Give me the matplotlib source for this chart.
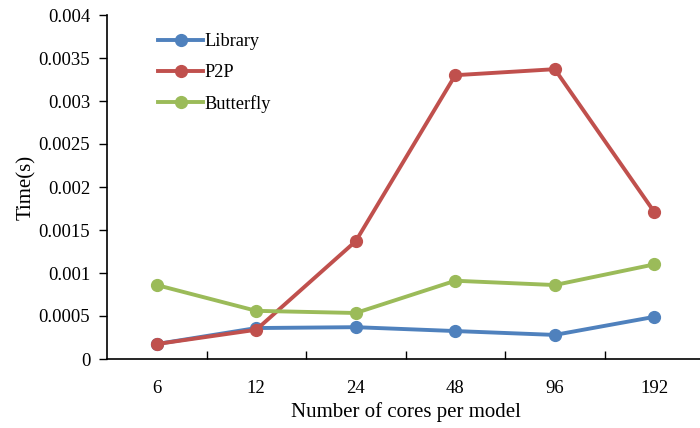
import numpy as np
import matplotlib.pyplot as plt
from matplotlib.ticker import FixedLocator, MultipleLocator

plt.rcParams['font.family'] = ['Liberation Serif', 'DejaVu Serif']

cores = ['6', '12', '24', '48', '96', '192']
library = [0.000174, 0.00036, 0.00037, 0.000325, 0.00028, 0.00049]
p2p = [0.000174, 0.00034, 0.00137, 0.0033, 0.00337, 0.00171]
butterfly = [0.00086, 0.00056, 0.000535, 0.00091, 0.00086, 0.0011]

fig = plt.figure(figsize=(7, 4.28), dpi=100)
ax = fig.add_axes([107 / 700, 69 / 428, 597 / 700, 344 / 428])

x = np.arange(len(cores))
ax.plot(x, library, color='#4F81BD', lw=2.8, marker='o', ms=8.5, label='Library')
ax.plot(x, p2p, color='#C0504D', lw=2.8, marker='o', ms=8.5, label='P2P')
ax.plot(x, butterfly, color='#9BBB59', lw=2.8, marker='o', ms=8.5, label='Butterfly')

ax.set_xlim(-0.5, len(cores) - 0.5)
ax.set_ylim(0, 0.004)
ax.set_xticks(x)
ax.set_xticklabels(cores, fontsize=13.5)
ax.xaxis.set_minor_locator(FixedLocator(x[:-1] + 0.5))
ax.tick_params(axis='x', which='major', length=0, pad=15)
ax.tick_params(axis='x', which='minor', length=6, direction='in', width=1)

ax.yaxis.set_major_locator(MultipleLocator(0.0005))
ax.yaxis.set_major_formatter(plt.FuncFormatter(lambda v, p: '0' if v == 0 else ('%.4f' % v).rstrip('0')))
ax.tick_params(axis='y', length=6, direction='out', width=1, labelsize=13.5, pad=6)

ax.spines['top'].set_visible(False)
ax.spines['right'].set_visible(False)
ax.spines['left'].set_linewidth(1.2)
ax.spines['bottom'].set_linewidth(1.2)

ax.set_xlabel('Number of cores per model', fontsize=15, labelpad=4)
ax.set_ylabel('Time(s)', fontsize=15, labelpad=2)

ax.legend(loc='upper left', bbox_to_anchor=(0.058, 0.995), frameon=False, fontsize=13.2,
          handlelength=2.45, labelspacing=0.75, handletextpad=0.05)

fig.savefig('out.png', dpi=100)
